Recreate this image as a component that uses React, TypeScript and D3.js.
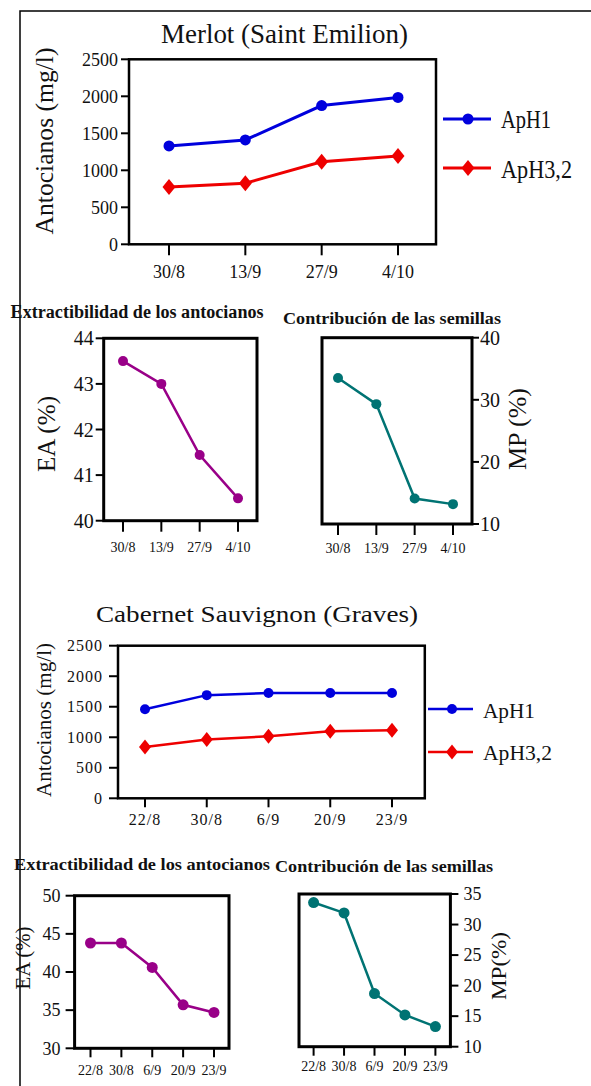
import React from 'react';
import * as d3 from 'd3';

// Merlot (Saint Emilion)
const merlotDates = ['30/8', '13/9', '27/9', '4/10'];
const merlotApH1 = [1330, 1410, 1875, 1985];
const merlotApH32 = [775, 825, 1115, 1193];
const merlotEA = [43.5, 43.0, 41.44, 40.49];
const merlotMP = [33.5, 29.3, 14.1, 13.2];

// Cabernet Sauvignon (Graves)
const cabDates = ['22/8', '30/8', '6/9', '20/9', '23/9'];
const cabApH1 = [1460, 1690, 1725, 1725, 1725];
const cabApH32 = [840, 965, 1015, 1100, 1115];
const cabEA = [43.8, 43.8, 40.6, 35.7, 34.7];
const cabMP = [33.6, 31.9, 18.7, 15.2, 13.3];

const antoTicks = [0, 500, 1000, 1500, 2000, 2500];
const eaTicksMerlot = [40, 41, 42, 43, 44];
const mpTicksMerlot = [10, 20, 30, 40];
const eaTicksCab = [30, 35, 40, 45, 50];
const mpTicksCab = [10, 15, 20, 25, 30, 35];

const seriesNames = ['ApH1', 'ApH3,2'];

const BLUE = '#0000dd';
const RED = '#ee0000';
const PURPLE = '#990088';
const TEAL = '#007373';
const FONT = 'Liberation Serif, Times New Roman, serif';
const tx = { fontFamily: FONT };

type Series = { values: number[]; color: string; shape: 'circle' | 'diamond' };

interface PanelProps {
  box: { l: number; r: number; t: number; b: number };
  xRange: [number, number];
  categories: string[];
  yDomain: [number, number];
  yTicks: number[];
  series: Series[];
  side?: 'left' | 'right';
  yTickLen: number;
  yLabelGap: number;
  yFont: number;
  yLetter?: number;
  xTickLen: number;
  xBaseline: number;
  xFont: number;
  xLetter?: number;
  boxWidth: number;
  lineWidth: number;
  r: number;
}

function marker(s: Series, x: number, y: number, r: number, key: number) {
  if (s.shape === 'circle') {
    return <circle key={key} cx={x} cy={y} r={r} fill={s.color} />;
  }
  const w = r + 1, h = r + 2.5;
  return (
    <path key={key} d={`M${x},${y - h}L${x + w},${y}L${x},${y + h}L${x - w},${y}Z`} fill={s.color} />
  );
}

const Panel: React.FC<PanelProps> = (p) => {
  const { box } = p;
  const x = d3.scalePoint<string>().domain(p.categories).range(p.xRange);
  const y = d3.scaleLinear().domain(p.yDomain).range([box.b, box.t]);
  const side = p.side || 'left';
  const ax = side === 'left' ? box.l : box.r;
  const dir = side === 'left' ? -1 : 1;

  return (
    <g>
      {p.series.map((s, i) => {
        const line = d3.line<number>()
          .x((_, j) => x(p.categories[j]) as number)
          .y(d => y(d));
        return (
          <g key={i}>
            <path d={line(s.values) || ''} fill="none" stroke={s.color} strokeWidth={p.lineWidth} />
            {s.values.map((v, j) => marker(s, x(p.categories[j]) as number, y(v), p.r, j))}
          </g>
        );
      })}
      <rect x={box.l} y={box.t} width={box.r - box.l} height={box.b - box.t}
        fill="none" stroke="#000" strokeWidth={p.boxWidth} />
      {p.yTicks.map(t => (
        <g key={t}>
          <line x1={ax} x2={ax + dir * p.yTickLen} y1={y(t)} y2={y(t)} stroke="#000" strokeWidth={2} />
          <text x={ax + dir * p.yLabelGap} y={y(t)} dy="0.35em" style={{ ...tx, letterSpacing: p.yLetter || 0 }}
            fontSize={p.yFont} fill="#111"
            textAnchor={side === 'left' ? 'end' : 'start'}>{t}</text>
        </g>
      ))}
      {p.categories.map(c => (
        <g key={c}>
          <line x1={x(c)} x2={x(c)} y1={box.b} y2={box.b + p.xTickLen} stroke="#000" strokeWidth={2} />
          <text x={x(c)} y={p.xBaseline} fontSize={p.xFont} style={{ ...tx, letterSpacing: p.xLetter || 0 }}
            fill="#111" textAnchor="middle">{c}</text>
        </g>
      ))}
    </g>
  );
};

const Legend: React.FC<{ x1: number; x2: number; xm: number; ys: number[]; tx: number;
  base: number[]; font: number; lens: number[]; r: number; lw: number }> = (p) => {
  const ss: Series[] = [
    { values: [], color: BLUE, shape: 'circle' },
    { values: [], color: RED, shape: 'diamond' },
  ];
  return (
    <g>
      {ss.map((s, i) => (
        <g key={i}>
          <line x1={p.x1} x2={p.x2} y1={p.ys[i]} y2={p.ys[i]} stroke={s.color} strokeWidth={p.lw} />
          {marker(s, p.xm, p.ys[i], p.r, 0)}
          <text x={p.tx} y={p.base[i]} fontSize={p.font} style={tx} textLength={p.lens[i]}
            lengthAdjust="spacingAndGlyphs" fill="#111">{seriesNames[i]}</text>
        </g>
      ))}
    </g>
  );
};

const YTitle: React.FC<{ x: number; y: number; size: number; len: number; text: string }> = (p) => (
  <text transform={`translate(${p.x},${p.y}) rotate(-90)`} textAnchor="middle" style={tx}
    fontSize={p.size} textLength={p.len} lengthAdjust="spacingAndGlyphs" fill="#111">{p.text}</text>
);

const Title: React.FC<{ x: number; y: number; size: number; len: number; text: string; bold?: boolean }> = (p) => (
  <text x={p.x} y={p.y} style={tx} fontSize={p.size} fontWeight={p.bold ? 'bold' : 'normal'}
    textLength={p.len} lengthAdjust="spacingAndGlyphs" fill="#111">{p.text}</text>
);

export default function App() {
  return (
    <svg width={591} height={1086} style={{ position: 'absolute', left: 0, top: 0, background: '#fff', fontFamily: FONT }}>
      <rect width={591} height={1086} fill="#fff" />
      {/* outer frame */}
      <path d="M20,1086V11H591" fill="none" stroke="#000" strokeWidth={1.5} />

      {/* Merlot */}
      <Title x={161} y={43} size={27} len={247} text="Merlot (Saint Emilion)" />
      <Panel box={{ l: 129, r: 436, t: 59.3, b: 244.3 }} xRange={[169, 398]} categories={merlotDates}
        yDomain={[0, 2500]} yTicks={antoTicks}
        series={[{ values: merlotApH1, color: BLUE, shape: 'circle' }, { values: merlotApH32, color: RED, shape: 'diamond' }]}
        yTickLen={8} yLabelGap={11} yFont={18} xTickLen={11} xBaseline={278} xFont={18}
        boxWidth={2.5} lineWidth={3} r={5.5} />
      <YTitle x={53} y={141} size={25} len={187} text="Antocianos (mg/l)" />
      <Legend x1={443} x2={491} xm={468} ys={[119, 168]} tx={501} base={[128, 178]} font={25}
        lens={[50, 71]} r={5.5} lw={3} />

      <Title x={10.6} y={318} size={18} len={253} bold text="Extractibilidad de los antocianos" />
      <Panel box={{ l: 103.7, r: 257, t: 338.3, b: 520.7 }} xRange={[123, 238]} categories={merlotDates}
        yDomain={[40, 44]} yTicks={eaTicksMerlot}
        series={[{ values: merlotEA, color: PURPLE, shape: 'circle' }]}
        yTickLen={8} yLabelGap={10} yFont={20} xTickLen={11} xBaseline={552} xFont={14}
        boxWidth={3} lineWidth={2.5} r={5} />
      <YTitle x={55} y={434} size={25} len={76} text="EA (%)" />

      <Title x={283} y={324} size={17.5} len={218} bold text="Contribución de las semillas" />
      <Panel box={{ l: 322, r: 472, t: 337.7, b: 524 }} xRange={[338, 453]} categories={merlotDates}
        yDomain={[10, 40]} yTicks={mpTicksMerlot} side="right"
        series={[{ values: merlotMP, color: TEAL, shape: 'circle' }]}
        yTickLen={7} yLabelGap={8} yFont={20} xTickLen={11} xBaseline={553} xFont={14}
        boxWidth={3} lineWidth={2.5} r={5} />
      <YTitle x={526} y={429} size={25} len={82} text="MP (%)" />

      {/* Cabernet Sauvignon */}
      <Title x={96} y={622} size={24} len={322} text="Cabernet Sauvignon (Graves)" />
      <Panel box={{ l: 118, r: 424.8, t: 645.7, b: 798.3 }} xRange={[145, 392]} categories={cabDates}
        yDomain={[0, 2500]} yTicks={antoTicks}
        series={[{ values: cabApH1, color: BLUE, shape: 'circle' }, { values: cabApH32, color: RED, shape: 'diamond' }]}
        yTickLen={9} yLabelGap={15} yFont={16} yLetter={1} xTickLen={9} xBaseline={825} xFont={16} xLetter={1}
        boxWidth={2.5} lineWidth={2.5} r={5} />
      <YTitle x={50.5} y={720} size={21} len={154} text="Antocianos (mg/l)" />
      <Legend x1={428} x2={473} xm={452} ys={[709, 752]} tx={483} base={[718, 760]} font={20}
        lens={[52, 69]} r={5} lw={2.5} />

      <Title x={14} y={870} size={16} len={256} bold text="Extractibilidad de los antocianos" />
      <Panel box={{ l: 74.6, r: 229, t: 895.7, b: 1048.3 }} xRange={[90.5, 214]} categories={cabDates}
        yDomain={[30, 50]} yTicks={eaTicksCab}
        series={[{ values: cabEA, color: PURPLE, shape: 'circle' }]}
        yTickLen={9} yLabelGap={14} yFont={18} xTickLen={9} xBaseline={1075} xFont={14}
        boxWidth={3} lineWidth={2.5} r={5.5} />
      <YTitle x={30} y={958} size={20} len={63} text="EA (%)" />

      <Title x={275} y={872} size={16} len={218} bold text="Contribución de las semillas" />
      <Panel box={{ l: 299, r: 450.4, t: 894, b: 1046.7 }} xRange={[313.6, 435.4]} categories={cabDates}
        yDomain={[10, 35]} yTicks={mpTicksCab} side="right"
        series={[{ values: cabMP, color: TEAL, shape: 'circle' }]}
        yTickLen={8} yLabelGap={13} yFont={18} xTickLen={9} xBaseline={1071} xFont={14}
        boxWidth={3} lineWidth={2.5} r={5.5} />
      <YTitle x={506} y={966} size={22} len={68} text="MP(%)" />
    </svg>
  );
}
